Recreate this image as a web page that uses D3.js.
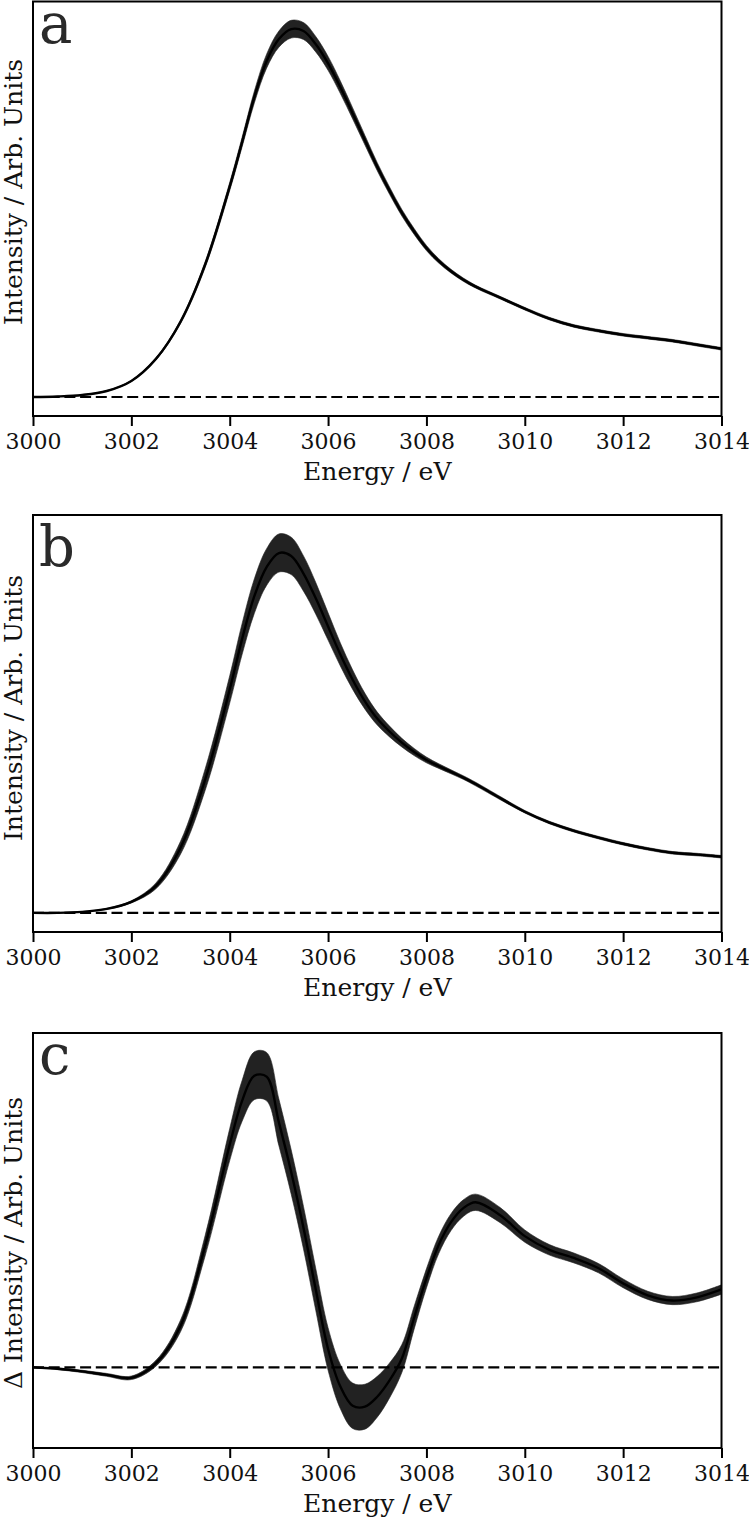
<!DOCTYPE html>
<html><head><meta charset="utf-8">
<script src="https://cdn.jsdelivr.net/npm/d3@7"></script>
<style>body{margin:0;background:#fff} svg{display:block}</style>
</head><body>
<svg id="chart" width="749" height="1518"></svg>
<script>
// ---- data ----
const energy = [3000, 3000.5, 3001, 3001.5, 3002, 3002.5, 3003, 3003.5, 3004, 3004.25, 3004.5, 3004.75,
  3005, 3005.25, 3005.5, 3005.75, 3006, 3006.25, 3006.5, 3006.75, 3007, 3007.25, 3007.5, 3007.75, 3008,
  3008.25, 3008.5, 3008.75, 3009, 3009.5, 3010, 3010.5, 3011, 3011.5, 3012, 3012.5, 3013, 3013.5, 3014];

const aMean = [0, 0.14, 0.54, 1.63, 4.36, 10.35, 20.44, 35.97, 57.22, 69.2, 81.5, 91.3,
  97.3, 100.0, 99.5, 95.9, 90.7, 84.2, 77.1, 69.8, 62.6, 56.1, 50.1, 45.0, 40.5,
  37.0, 34.2, 31.9, 30.0, 27.0, 24.0, 21.3, 19.3, 18.0, 16.9, 16.1, 15.3, 14.2, 13.1];
const aStd = [0.05, 0.05, 0.08, 0.1, 0.15, 0.3, 0.5, 0.8, 1.1, 1.3, 1.6, 1.9,
  2.2, 2.4, 2.3, 2.1, 1.9, 1.7, 1.5, 1.3, 1.1, 1.0, 0.9, 0.8, 0.7,
  0.6, 0.5, 0.45, 0.4, 0.35, 0.35, 0.35, 0.35, 0.35, 0.35, 0.35, 0.35, 0.35, 0.35];

const bMean = [0, 0, 0.28, 1.11, 3.06, 7.52, 18.1, 37.0, 62.1, 76.0, 88.0, 96.1,
  100.0, 99.2, 94.3, 87.4, 79.6, 71.8, 64.8, 58.8, 54.0, 50.4, 47.3, 44.7, 42.5,
  40.8, 39.2, 37.6, 35.8, 31.9, 28.1, 25.1, 22.8, 20.9, 19.2, 17.8, 16.7, 16.2, 15.6];
const bStd = [0.05, 0.05, 0.08, 0.12, 0.3, 0.8, 1.8, 3.0, 3.8, 4.3, 4.8, 5.1,
  5.3, 5.2, 4.9, 4.4, 3.8, 3.2, 2.7, 2.2, 1.8, 1.5, 1.2, 1.0, 0.8,
  0.65, 0.55, 0.5, 0.5, 0.45, 0.35, 0.35, 0.35, 0.35, 0.35, 0.35, 0.35, 0.35, 0.35];

const cMean = [0, -0.5, -1.4, -2.6, -3.6, 1.4, 14.2, 41.7, 76.4, 91.3, 100.0, 99.7,
  84.0, 67.0, 47.9, 26.7, 6.3, -6.6, -13.2, -13.5, -10.1, -4.5, 3.0, 17.0, 30.5,
  42.0, 49.8, 54.6, 56.6, 52.2, 45.0, 40.3, 37.5, 34.0, 28.8, 24.7, 22.9, 24.0, 26.7];
const cStd = [0.2, 0.3, 0.4, 0.5, 0.6, 1.0, 2.0, 3.5, 5.5, 7.0, 8.2, 8.3,
  8.0, 7.6, 7.3, 7.2, 7.3, 7.6, 7.8, 7.7, 7.0, 6.0, 4.8, 3.9, 3.3,
  3.0, 2.9, 2.85, 2.8, 2.6, 2.1, 1.8, 1.7, 1.6, 1.5, 1.4, 1.4, 1.5, 1.6];

const xTicks = [3000, 3002, 3004, 3006, 3008, 3010, 3012, 3014];
const panelLetters = ["a", "b", "c"];
const yLabels = ["Intensity / Arb. Units", "Intensity / Arb. Units", "\u0394 Intensity / Arb. Units"];
const xLabel = "Energy / eV";

// ---- layout ----
const layout = [
  {top: 1.5, bottom: 416, letterY: 43, yLabelC: 192, xLabelY: 480},
  {top: 515, bottom: 932, letterY: 566, yLabelC: 708, xLabelY: 996},
  {top: 1033, bottom: 1448, letterY: 1074, yLabelC: 1243, xLabelY: 1512}
];
const series = [[aMean, aStd], [bMean, bStd], [cMean, cStd]];
const left = 33, right = 721.5;
const font = "DejaVu Serif";

const svg = d3.select("#chart");
const x = d3.scaleLinear().domain([3000, 3014]).range([left, right]);

series.forEach(([mean, std], i) => {
  const L = layout[i];
  const pts = energy.map((e, k) => ({e, m: mean[k], s: std[k]}));
  let lo = d3.min(pts, d => d.m - d.s), hi = d3.max(pts, d => d.m + d.s);
  lo = Math.min(lo, 0); hi = Math.max(hi, 0);
  const pad = 0.05 * (hi - lo);
  const y = d3.scaleLinear().domain([lo - pad, hi + pad]).range([L.bottom, L.top]);
  const g = svg.append("g");

  const area = d3.area().x(d => x(d.e)).y0(d => y(d.m - d.s)).y1(d => y(d.m + d.s)).curve(d3.curveCatmullRom);
  const line = d3.line().x(d => x(d.e)).y(d => y(d.m)).curve(d3.curveCatmullRom);

  g.append("path").datum(pts).attr("d", area).attr("fill", "#222").attr("stroke", "#222").attr("stroke-width", 0.6);
  g.append("path").datum(pts).attr("d", line).attr("fill", "none").attr("stroke", "#000").attr("stroke-width", 2.4);
  g.append("line").attr("x1", x(3000)).attr("x2", x(3014)).attr("y1", y(0)).attr("y2", y(0))
    .attr("stroke", "#000").attr("stroke-width", 2.2).attr("stroke-dasharray", "11,4.7");

  // frame
  g.append("rect").attr("x", left).attr("y", L.top).attr("width", right - left).attr("height", L.bottom - L.top)
    .attr("fill", "none").attr("stroke", "#000").attr("stroke-width", 2);

  const ax = g.append("g").attr("transform", `translate(0,${L.bottom})`)
    .call(d3.axisBottom(x).tickValues(xTicks).tickFormat(d3.format("d")).tickSize(10).tickPadding(7));
  ax.select(".domain").remove();
  ax.selectAll(".tick line").attr("stroke", "#000").attr("stroke-width", 2);
  ax.selectAll(".tick text").attr("font-family", font).attr("font-size", 22).attr("fill", "#111");

  g.append("text").attr("x", (left + right) / 2).attr("y", L.xLabelY).attr("text-anchor", "middle")
    .attr("font-family", font).attr("font-size", 25).attr("fill", "#111").text(xLabel);

  g.append("text").attr("transform", "rotate(-90)").attr("x", -L.yLabelC).attr("y", 21.5)
    .attr("text-anchor", "middle").attr("font-family", font).attr("font-size", 25).attr("fill", "#111")
    .text(yLabels[i]);

  g.append("text").attr("x", 39).attr("y", L.letterY).attr("font-family", font).attr("font-size", 56)
    .attr("fill", "#2a2a2a").text(panelLetters[i]);
});
</script>
</body></html>
